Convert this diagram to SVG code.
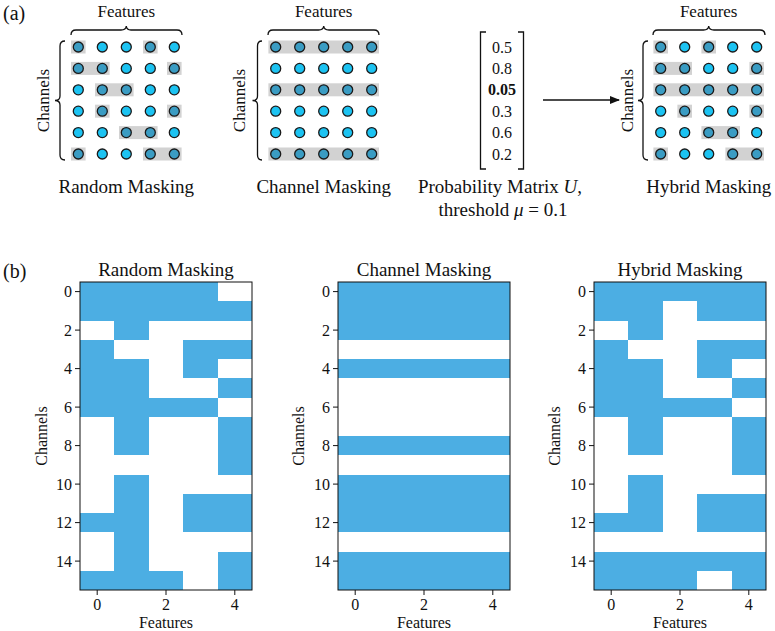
<svg xmlns="http://www.w3.org/2000/svg" width="775" height="631" viewBox="0 0 775 631">
<defs>
<style>
text{font-family:"Liberation Serif","Times New Roman",serif;fill:#111}
.lab{font-size:17px}
.ttl{font-size:19px}
.tick{font-size:16px}
.pan{font-size:20px}
.d{fill:#1cc3f2;stroke:#1a1a1a;stroke-width:1.3}
.m{fill:#3a9cc3;stroke:#1a1a1a;stroke-width:1.3}
.g{fill:#d2d2d2}
.br{fill:none;stroke:#111;stroke-width:1.3}
.hm rect{fill:#4caee3;shape-rendering:crispEdges}
.frame{fill:none;stroke:#111;stroke-width:1}
.tk{stroke:#111;stroke-width:1}
</style>
<marker id="ah" markerWidth="10" markerHeight="8" refX="9" refY="4" orient="auto" markerUnits="userSpaceOnUse">
<path d="M0,0 L10,4 L0,8 Z" fill="#111"/>
</marker>
</defs>
<rect width="775" height="631" fill="#fff"/>

<text class="pan" x="3" y="20">(a)</text>
<text class="pan" x="3" y="278">(b)</text>

<!-- (a) Random masking -->
<g id="a-random">
<text class="lab" x="126.3" y="17" text-anchor="middle">Features</text>
<path class="br" d="M71,35 Q71,30 76,30 L121,30 Q126,30 126.3,26 Q126.6,30 131,30 L177,30 Q182,30 182,35"/>
<path class="br" d="M65,41 Q60,41 60,46 L60,96 Q60,100.5 55,100.5 Q60,100.5 60,105 L60,155 Q60,160 65,160"/>
<text class="lab" transform="translate(49,100.5) rotate(-90)" text-anchor="middle">Channels</text>
<g class="g">
<rect x="71" y="40.5" width="14.6" height="13"/><rect x="143" y="40.5" width="14.6" height="13"/>
<rect x="71" y="61.9" width="38.6" height="13"/><rect x="167" y="61.9" width="14.6" height="13"/>
<rect x="95" y="83.3" width="38.6" height="13"/>
<rect x="95" y="104.7" width="14.6" height="13"/><rect x="167" y="104.7" width="14.6" height="13"/>
<rect x="119" y="126.1" width="38.6" height="13"/>
<rect x="71" y="147.5" width="14.6" height="13"/><rect x="143" y="147.5" width="38.6" height="13"/>
</g>
<g>
<circle class="m" cx="78.3" cy="47" r="5"/><circle class="d" cx="102.3" cy="47" r="5"/><circle class="d" cx="126.3" cy="47" r="5"/><circle class="m" cx="150.3" cy="47" r="5"/><circle class="d" cx="174.3" cy="47" r="5"/>
<circle class="m" cx="78.3" cy="68.4" r="5"/><circle class="m" cx="102.3" cy="68.4" r="5"/><circle class="d" cx="126.3" cy="68.4" r="5"/><circle class="d" cx="150.3" cy="68.4" r="5"/><circle class="m" cx="174.3" cy="68.4" r="5"/>
<circle class="d" cx="78.3" cy="89.8" r="5"/><circle class="m" cx="102.3" cy="89.8" r="5"/><circle class="m" cx="126.3" cy="89.8" r="5"/><circle class="d" cx="150.3" cy="89.8" r="5"/><circle class="d" cx="174.3" cy="89.8" r="5"/>
<circle class="d" cx="78.3" cy="111.2" r="5"/><circle class="m" cx="102.3" cy="111.2" r="5"/><circle class="d" cx="126.3" cy="111.2" r="5"/><circle class="d" cx="150.3" cy="111.2" r="5"/><circle class="m" cx="174.3" cy="111.2" r="5"/>
<circle class="d" cx="78.3" cy="132.6" r="5"/><circle class="d" cx="102.3" cy="132.6" r="5"/><circle class="m" cx="126.3" cy="132.6" r="5"/><circle class="m" cx="150.3" cy="132.6" r="5"/><circle class="d" cx="174.3" cy="132.6" r="5"/>
<circle class="m" cx="78.3" cy="154" r="5"/><circle class="d" cx="102.3" cy="154" r="5"/><circle class="d" cx="126.3" cy="154" r="5"/><circle class="m" cx="150.3" cy="154" r="5"/><circle class="m" cx="174.3" cy="154" r="5"/>
</g>
<text class="ttl" x="126.3" y="193" text-anchor="middle">Random Masking</text>
</g>

<!-- (a) Channel masking -->
<g id="a-channel">
<text class="lab" x="323.7" y="17" text-anchor="middle">Features</text>
<path class="br" d="M268,35 Q268,30 273,30 L318.5,30 Q323.4,30 323.7,26 Q324,30 329,30 L374,30 Q379,30 379,35"/>
<path class="br" d="M262,41 Q257.5,41 257.5,46 L257.5,96 Q257.5,100.5 252.5,100.5 Q257.5,100.5 257.5,105 L257.5,155 Q257.5,160 262,160"/>
<text class="lab" transform="translate(245,100.5) rotate(-90)" text-anchor="middle">Channels</text>
<g class="g">
<rect x="268.4" y="40.5" width="110.6" height="13"/>
<rect x="268.4" y="83.3" width="110.6" height="13"/>
<rect x="268.4" y="147.5" width="110.6" height="13"/>
</g>
<g>
<circle class="m" cx="275.7" cy="47" r="5"/><circle class="m" cx="299.7" cy="47" r="5"/><circle class="m" cx="323.7" cy="47" r="5"/><circle class="m" cx="347.7" cy="47" r="5"/><circle class="m" cx="371.7" cy="47" r="5"/>
<circle class="d" cx="275.7" cy="68.4" r="5"/><circle class="d" cx="299.7" cy="68.4" r="5"/><circle class="d" cx="323.7" cy="68.4" r="5"/><circle class="d" cx="347.7" cy="68.4" r="5"/><circle class="d" cx="371.7" cy="68.4" r="5"/>
<circle class="m" cx="275.7" cy="89.8" r="5"/><circle class="m" cx="299.7" cy="89.8" r="5"/><circle class="m" cx="323.7" cy="89.8" r="5"/><circle class="m" cx="347.7" cy="89.8" r="5"/><circle class="m" cx="371.7" cy="89.8" r="5"/>
<circle class="d" cx="275.7" cy="111.2" r="5"/><circle class="d" cx="299.7" cy="111.2" r="5"/><circle class="d" cx="323.7" cy="111.2" r="5"/><circle class="d" cx="347.7" cy="111.2" r="5"/><circle class="d" cx="371.7" cy="111.2" r="5"/>
<circle class="d" cx="275.7" cy="132.6" r="5"/><circle class="d" cx="299.7" cy="132.6" r="5"/><circle class="d" cx="323.7" cy="132.6" r="5"/><circle class="d" cx="347.7" cy="132.6" r="5"/><circle class="d" cx="371.7" cy="132.6" r="5"/>
<circle class="m" cx="275.7" cy="154" r="5"/><circle class="m" cx="299.7" cy="154" r="5"/><circle class="m" cx="323.7" cy="154" r="5"/><circle class="m" cx="347.7" cy="154" r="5"/><circle class="m" cx="371.7" cy="154" r="5"/>
</g>
<text class="ttl" x="323.7" y="193" text-anchor="middle">Channel Masking</text>
</g>

<!-- (a) Probability matrix -->
<g id="a-matrix">
<path class="br" d="M486,32 L480.5,32 L480.5,169 L486,169"/>
<path class="br" d="M518,32 L523.5,32 L523.5,169 L518,169"/>
<g class="tick" text-anchor="middle">
<text x="502" y="52.5">0.5</text>
<text x="502" y="73.9">0.8</text>
<text x="502" y="95.3" font-weight="bold">0.05</text>
<text x="502" y="116.7">0.3</text>
<text x="502" y="138.1">0.6</text>
<text x="502" y="159.5">0.2</text>
</g>
<text class="ttl" x="500" y="193" text-anchor="middle">Probability Matrix <tspan font-style="italic">U</tspan>,</text>
<text class="ttl" x="503" y="216" text-anchor="middle">threshold <tspan font-style="italic">μ</tspan> = 0.1</text>
</g>

<g id="connectors">
<line x1="543" y1="100" x2="619" y2="100" stroke="#111" stroke-width="1.4" marker-end="url(#ah)"/>
</g>

<!-- (a) Hybrid masking -->
<g id="a-hybrid">
<text class="lab" x="708.7" y="17" text-anchor="middle">Features</text>
<path class="br" d="M653,35 Q653,30 658,30 L703.5,30 Q708.4,30 708.7,26 Q709,30 714,30 L760,30 Q765,30 765,35"/>
<path class="br" d="M648,41 Q643,41 643,46 L643,96 Q643,100.5 638,100.5 Q643,100.5 643,105 L643,155 Q643,160 648,160"/>
<text class="lab" transform="translate(633,100.5) rotate(-90)" text-anchor="middle">Channels</text>
<g class="g">
<rect x="653.4" y="40.5" width="14.6" height="13"/><rect x="701.4" y="40.5" width="14.6" height="13"/>
<rect x="653.4" y="61.9" width="38.6" height="13"/><rect x="749.4" y="61.9" width="14.6" height="13"/>
<rect x="653.4" y="83.3" width="110.6" height="13"/>
<rect x="677.4" y="104.7" width="14.6" height="13"/><rect x="749.4" y="104.7" width="14.6" height="13"/>
<rect x="701.4" y="126.1" width="38.6" height="13"/>
<rect x="653.4" y="147.5" width="14.6" height="13"/><rect x="725.4" y="147.5" width="38.6" height="13"/>
</g>
<g>
<circle class="m" cx="660.7" cy="47" r="5"/><circle class="d" cx="684.7" cy="47" r="5"/><circle class="m" cx="708.7" cy="47" r="5"/><circle class="d" cx="732.7" cy="47" r="5"/><circle class="d" cx="756.7" cy="47" r="5"/>
<circle class="m" cx="660.7" cy="68.4" r="5"/><circle class="m" cx="684.7" cy="68.4" r="5"/><circle class="d" cx="708.7" cy="68.4" r="5"/><circle class="d" cx="732.7" cy="68.4" r="5"/><circle class="m" cx="756.7" cy="68.4" r="5"/>
<circle class="m" cx="660.7" cy="89.8" r="5"/><circle class="m" cx="684.7" cy="89.8" r="5"/><circle class="m" cx="708.7" cy="89.8" r="5"/><circle class="m" cx="732.7" cy="89.8" r="5"/><circle class="m" cx="756.7" cy="89.8" r="5"/>
<circle class="d" cx="660.7" cy="111.2" r="5"/><circle class="m" cx="684.7" cy="111.2" r="5"/><circle class="d" cx="708.7" cy="111.2" r="5"/><circle class="d" cx="732.7" cy="111.2" r="5"/><circle class="m" cx="756.7" cy="111.2" r="5"/>
<circle class="d" cx="660.7" cy="132.6" r="5"/><circle class="d" cx="684.7" cy="132.6" r="5"/><circle class="m" cx="708.7" cy="132.6" r="5"/><circle class="m" cx="732.7" cy="132.6" r="5"/><circle class="d" cx="756.7" cy="132.6" r="5"/>
<circle class="m" cx="660.7" cy="154" r="5"/><circle class="d" cx="684.7" cy="154" r="5"/><circle class="d" cx="708.7" cy="154" r="5"/><circle class="m" cx="732.7" cy="154" r="5"/><circle class="m" cx="756.7" cy="154" r="5"/>
</g>
<text class="ttl" x="708.7" y="193" text-anchor="middle">Hybrid Masking</text>
</g>

<!-- (b) Random heatmap -->
<g id="b-random">
<text class="ttl" x="166" y="276" text-anchor="middle">Random Masking</text>
<g class="hm" transform="translate(80 282) scale(34.4 19.25)">
<rect x="0" y="0" width="4" height="2"/>
<rect x="3" y="1" width="2" height="1"/>
<rect x="1" y="2" width="1" height="1"/>
<rect x="0" y="3" width="1" height="4"/><rect x="3" y="3" width="2" height="1"/>
<rect x="0" y="4" width="2" height="3"/><rect x="3" y="4" width="1" height="1"/>
<rect x="4" y="5" width="1" height="1"/>
<rect x="0" y="6" width="4" height="1"/>
<rect x="1" y="6" width="1" height="3"/><rect x="4" y="7" width="1" height="3"/>
<rect x="1" y="10" width="1" height="6"/>
<rect x="3" y="11" width="2" height="2"/><rect x="0" y="12" width="1" height="1"/>
<rect x="4" y="14" width="1" height="2"/>
<rect x="0" y="15" width="3" height="1"/>
</g>
<rect class="frame" x="80" y="282" width="172" height="308"/>
<g class="tk">
<line x1="75" y1="291.6" x2="80" y2="291.6"/><line x1="75" y1="330.1" x2="80" y2="330.1"/><line x1="75" y1="368.6" x2="80" y2="368.6"/><line x1="75" y1="407.1" x2="80" y2="407.1"/><line x1="75" y1="445.6" x2="80" y2="445.6"/><line x1="75" y1="484.1" x2="80" y2="484.1"/><line x1="75" y1="522.6" x2="80" y2="522.6"/><line x1="75" y1="561.1" x2="80" y2="561.1"/>
<line x1="97.2" y1="590" x2="97.2" y2="595"/><line x1="166" y1="590" x2="166" y2="595"/><line x1="234.8" y1="590" x2="234.8" y2="595"/>
</g>
<g class="tick" text-anchor="end">
<text x="72" y="297">0</text><text x="72" y="335.5">2</text><text x="72" y="374">4</text><text x="72" y="412.5">6</text><text x="72" y="451">8</text><text x="72" y="489.5">10</text><text x="72" y="528">12</text><text x="72" y="566.5">14</text>
</g>
<g class="tick" text-anchor="middle">
<text x="97.2" y="610">0</text><text x="166" y="610">2</text><text x="234.8" y="610">4</text>
<text x="166" y="628">Features</text>
</g>
<text class="tick" transform="translate(47,436) rotate(-90)" text-anchor="middle">Channels</text>
</g>

<!-- (b) Channel heatmap -->
<g id="b-channel">
<text class="ttl" x="424" y="276" text-anchor="middle">Channel Masking</text>
<g class="hm" transform="translate(338 282) scale(34.4 19.25)">
<rect x="0" y="0" width="5" height="3"/>
<rect x="0" y="4" width="5" height="1"/>
<rect x="0" y="8" width="5" height="1"/>
<rect x="0" y="10" width="5" height="3"/>
<rect x="0" y="14" width="5" height="2"/>
</g>
<rect class="frame" x="338" y="282" width="172" height="308"/>
<g class="tk">
<line x1="333" y1="291.6" x2="338" y2="291.6"/><line x1="333" y1="330.1" x2="338" y2="330.1"/><line x1="333" y1="368.6" x2="338" y2="368.6"/><line x1="333" y1="407.1" x2="338" y2="407.1"/><line x1="333" y1="445.6" x2="338" y2="445.6"/><line x1="333" y1="484.1" x2="338" y2="484.1"/><line x1="333" y1="522.6" x2="338" y2="522.6"/><line x1="333" y1="561.1" x2="338" y2="561.1"/>
<line x1="355.2" y1="590" x2="355.2" y2="595"/><line x1="424" y1="590" x2="424" y2="595"/><line x1="492.8" y1="590" x2="492.8" y2="595"/>
</g>
<g class="tick" text-anchor="end">
<text x="330" y="297">0</text><text x="330" y="335.5">2</text><text x="330" y="374">4</text><text x="330" y="412.5">6</text><text x="330" y="451">8</text><text x="330" y="489.5">10</text><text x="330" y="528">12</text><text x="330" y="566.5">14</text>
</g>
<g class="tick" text-anchor="middle">
<text x="355.2" y="610">0</text><text x="424" y="610">2</text><text x="492.8" y="610">4</text>
<text x="424" y="628">Features</text>
</g>
<text class="tick" transform="translate(304,436) rotate(-90)" text-anchor="middle">Channels</text>
</g>

<!-- (b) Hybrid heatmap -->
<g id="b-hybrid">
<text class="ttl" x="680" y="276" text-anchor="middle">Hybrid Masking</text>
<g class="hm" transform="translate(594 282) scale(34.4 19.25)">
<rect x="0" y="0" width="5" height="1"/>
<rect x="0" y="0" width="2" height="2"/><rect x="3" y="0" width="2" height="2"/>
<rect x="1" y="2" width="1" height="1"/>
<rect x="0" y="3" width="1" height="4"/><rect x="3" y="3" width="2" height="1"/>
<rect x="0" y="4" width="2" height="3"/><rect x="3" y="4" width="1" height="1"/>
<rect x="4" y="5" width="1" height="1"/>
<rect x="0" y="6" width="4" height="1"/>
<rect x="1" y="6" width="1" height="3"/><rect x="4" y="7" width="1" height="3"/>
<rect x="1" y="10" width="1" height="3"/>
<rect x="3" y="11" width="2" height="2"/><rect x="0" y="12" width="1" height="1"/>
<rect x="0" y="14" width="5" height="1"/>
<rect x="0" y="14" width="3" height="2"/><rect x="4" y="14" width="1" height="2"/>
</g>
<rect class="frame" x="594" y="282" width="172" height="308"/>
<g class="tk">
<line x1="589" y1="291.6" x2="594" y2="291.6"/><line x1="589" y1="330.1" x2="594" y2="330.1"/><line x1="589" y1="368.6" x2="594" y2="368.6"/><line x1="589" y1="407.1" x2="594" y2="407.1"/><line x1="589" y1="445.6" x2="594" y2="445.6"/><line x1="589" y1="484.1" x2="594" y2="484.1"/><line x1="589" y1="522.6" x2="594" y2="522.6"/><line x1="589" y1="561.1" x2="594" y2="561.1"/>
<line x1="611.2" y1="590" x2="611.2" y2="595"/><line x1="680" y1="590" x2="680" y2="595"/><line x1="748.8" y1="590" x2="748.8" y2="595"/>
</g>
<g class="tick" text-anchor="end">
<text x="586" y="297">0</text><text x="586" y="335.5">2</text><text x="586" y="374">4</text><text x="586" y="412.5">6</text><text x="586" y="451">8</text><text x="586" y="489.5">10</text><text x="586" y="528">12</text><text x="586" y="566.5">14</text>
</g>
<g class="tick" text-anchor="middle">
<text x="611.2" y="610">0</text><text x="680" y="610">2</text><text x="748.8" y="610">4</text>
<text x="680" y="628">Features</text>
</g>
<text class="tick" transform="translate(560,436) rotate(-90)" text-anchor="middle">Channels</text>
</g>
</svg>
